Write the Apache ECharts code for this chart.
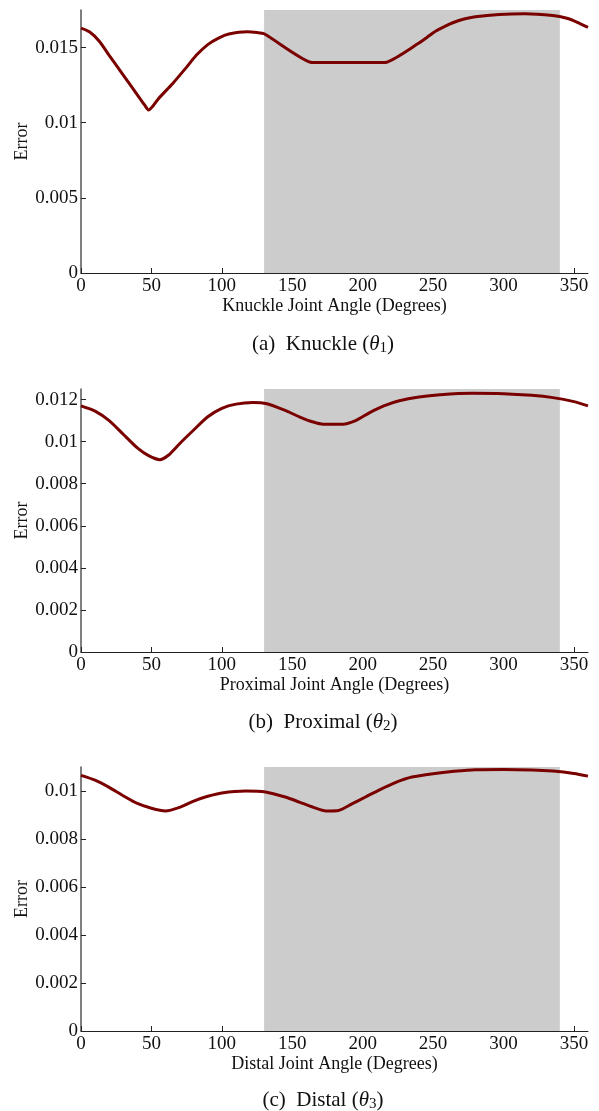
<!DOCTYPE html>
<html>
<head>
<meta charset="utf-8">
<script src="https://cdn.jsdelivr.net/npm/echarts@6/dist/echarts.min.js"></script>
<style>
html,body{margin:0;padding:0;background:#fff;}
#chart{width:599px;height:1111px;}
</style>
</head>
<body>
<div id="chart"></div>
<script>
// knuckle joint error vs angle
const knuckleAngle = [0,6,13,20,30,40,45,48,51,55,65,75,82,90,98,105,118,125,130,163,166,214,217,240,246,252,258,264,272,280,297,315,335,345,352,360];
const knuckleError = [0.0163,0.01605,0.01542,0.01448,0.01317,0.01186,0.0112,0.01085,0.0111,0.0116,0.0126,0.0137,0.0145,0.0152,0.01565,0.0159,0.01605,0.016,0.01592,0.01402,0.014,0.014,0.01402,0.0153,0.0157,0.0161,0.0164,0.01665,0.0169,0.01705,0.0172,0.01725,0.01713,0.01695,0.0167,0.01635];

const proximalAngle = [0,10,20,30,40,48,56,62,70,80,90,100,110,122,132,145,155,165,172,186,195,205,215,226,240,255,278,300,320,335,350,360];
const proximalError = [0.0117,0.01145,0.011,0.01035,0.0097,0.00933,0.00914,0.00935,0.0099,0.01055,0.01118,0.01158,0.01178,0.01186,0.0118,0.01148,0.01118,0.01093,0.01083,0.01083,0.011,0.01138,0.0117,0.01194,0.01212,0.01223,0.0123,0.01228,0.0122,0.01209,0.0119,0.0117];

const distalAngle = [0,10,20,30,40,50,60,70,80,90,100,117,131,145,155,165,174,183,192,202,212,224,235,250,265,280,300,320,335,350,360];
const distalError = [0.01065,0.01045,0.01015,0.0098,0.00948,0.00928,0.00917,0.00932,0.00958,0.00978,0.00992,0.01,0.00996,0.00975,0.00954,0.00932,0.00917,0.00919,0.00945,0.00975,0.01005,0.01037,0.01058,0.01072,0.01082,0.01089,0.0109,0.01088,0.01083,0.01073,0.01062];

const xTicks = [0,50,100,150,200,250,300,350];
const knuckleTicks = [0,0.005,0.01,0.015];
const proximalTicks = [0,0.002,0.004,0.006,0.008,0.01,0.012];
const distalTicks = [0,0.002,0.004,0.006,0.008,0.01];
const shadeRange = [130,340];

const xNames = ['Knuckle Joint Angle (Degrees)','Proximal Joint Angle (Degrees)','Distal Joint Angle (Degrees)'];
const captions = [['(a)','Knuckle','1'],['(b)','Proximal','2'],['(c)','Distal','3']];

const font = 'Liberation Serif';
const lineColor = '#7a0000';

const panels = [
    {angle: knuckleAngle, err: knuckleError, ticks: knuckleTicks, max: 0.0175, top: 10, height: 263, cap: 342},
    {angle: proximalAngle, err: proximalError, ticks: proximalTicks, max: 0.0125, top: 389, height: 263, cap: 720},
    {angle: distalAngle, err: distalError, ticks: distalTicks, max: 0.011, top: 767, height: 264, cap: 1098}
];

var chart = echarts.init(document.getElementById('chart'));

var grid = [], xAxis = [], yAxis = [], series = [], title = [];
panels.forEach((p, i) => {
    grid.push({left: 81, right: 11, top: p.top, height: p.height, containLabel: false});
    xAxis.push({
        type: 'value', gridIndex: i, min: 0, max: 360,
        name: xNames[i], nameLocation: 'middle', nameGap: 24, nameMoveOverlap: false,
        nameTextStyle: {fontFamily: font, fontSize: 18, color: '#111'},
        axisLine: {show: true, lineStyle: {color: '#222', width: 1}},
        axisTick: {show: true, inside: true, length: 5, lineStyle: {color: '#222'}, customValues: xTicks},
        axisLabel: {fontFamily: font, fontSize: 19, color: '#111', margin: 4, customValues: xTicks},
        splitLine: {show: false}
    });
    yAxis.push({
        type: 'value', gridIndex: i, min: 0, max: p.max,
        name: 'Error', nameLocation: 'middle', nameGap: 50, nameRotate: 90, nameMoveOverlap: false,
        nameTextStyle: {fontFamily: font, fontSize: 18, color: '#111'},
        axisLine: {show: true, lineStyle: {color: '#555', width: 1.5}},
        axisTick: {show: true, inside: true, length: 5, lineStyle: {color: '#222'}, customValues: p.ticks},
        axisLabel: {fontFamily: font, fontSize: 19, color: '#111', margin: 3, customValues: p.ticks},
        splitLine: {show: false}
    });
    // gray shaded range
    series.push({
        type: 'line', xAxisIndex: i, yAxisIndex: i, data: [], z: 1, silent: true,
        markArea: {
            silent: true,
            itemStyle: {color: '#cccccc'},
            data: [[{xAxis: shadeRange[0]}, {xAxis: shadeRange[1]}]]
        }
    });
    series.push({
        type: 'line', xAxisIndex: i, yAxisIndex: i, z: 3,
        data: p.angle.map((a, k) => [a, p.err[k]]),
        smooth: 0.25, showSymbol: false,
        lineStyle: {color: lineColor, width: 3},
        itemStyle: {color: lineColor}
    });
    var c = captions[i];
    title.push({
        left: 318, top: p.cap - 15, textAlign: 'center',
        text: '{n|' + c[0] + '  ' + c[1] + ' (}{t|θ}{s|' + c[2] + '}{n|)}',
        textStyle: {
            fontWeight: 'normal',
            rich: {
                n: {fontFamily: font, fontSize: 21, fontWeight: 'normal', color: '#111'},
                t: {fontFamily: font, fontSize: 21, fontStyle: 'italic', fontWeight: 'normal', color: '#111'},
                s: {fontFamily: font, fontSize: 15, fontWeight: 'normal', color: '#111', verticalAlign: 'bottom', padding: [9, 0, 0, 0]}
            }
        }
    });
});

chart.setOption({
    animation: false,
    backgroundColor: '#fff',
    title: title,
    grid: grid,
    xAxis: xAxis,
    yAxis: yAxis,
    series: series
});
</script>
</body>
</html>
